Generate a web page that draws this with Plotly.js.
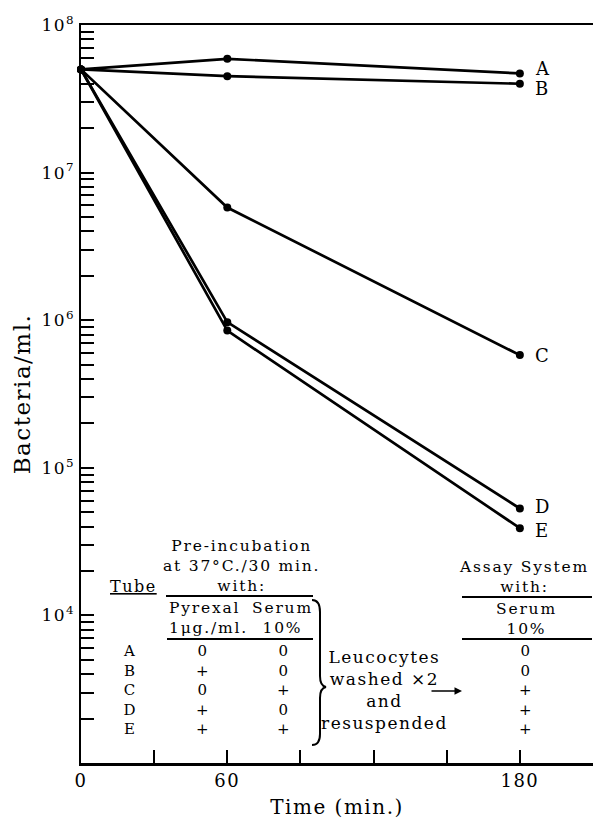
<!DOCTYPE html>
<html><head><meta charset="utf-8">
<script src="https://cdn.plot.ly/plotly-3.0.1.min.js"></script>
<style>html,body{margin:0;padding:0;background:#fff}#chart{width:593px;height:819px}
svg text{letter-spacing:1.5px}</style>
</head><body><div id="chart"></div>
<script>
// ---- data ----
const times = [0, 60, 180];
const tubeA = [5.0e7, 5.9e7, 4.7e7];
const tubeB = [5.0e7, 4.5e7, 4.0e7];
const tubeC = [5.0e7, 5.8e6, 5.8e5];
const tubeD = [5.0e7, 9.7e5, 5.3e4];
const tubeE = [5.0e7, 8.5e5, 3.9e4];
const seriesNames = ['A', 'B', 'C', 'D', 'E'];

const xTickVals = [0, 30, 60, 90, 120, 150, 180];
const xTickText = ['0', '', '60', '', '', '', '180'];
const yDecadeExps = [3, 4, 5, 6, 7, 8];
const yDecadeText = ['', '10<sup>4</sup>', '10<sup>5</sup>', '10<sup>6</sup>', '10<sup>7</sup>', '10<sup>8</sup>'];

// table
const tubes = ['A', 'B', 'C', 'D', 'E'];
const pyrexal = ['0', '+', '0', '+', '+'];
const preSerum = ['0', '0', '+', '0', '+'];
const assaySerum = ['0', '0', '+', '+', '+'];
const preHeader = ['Pre-incubation', 'at 37°C./30 min.', 'with:'];
const pyrexalHeader = ['Pyrexal', '1μg./ml.'];
const serumHeader = ['Serum', '10%'];
const assayHeader = ['Assay System', 'with:'];
const leucoText = ['Leucocytes', 'washed ×2', 'and', 'resuspended'];

// ---- layout helpers ----
const W = 593, H = 819, L = 81, R = 0, T = 25, B = 56;
const pw = W - L - R, ph = H - T - B;
const px = v => (v - L) / pw;
const py = v => (H - B - v) / ph;
const FONT = 'DejaVu Serif';
const spaced = (lines, s) => lines.map(l => `<span style="letter-spacing:${s}px">${l}</span>`).join('<br>');

const allSeries = [tubeA, tubeB, tubeC, tubeD, tubeE];
const traces = allSeries.map((ys, i) => ({
  x: times, y: ys, name: seriesNames[i], type: 'scatter', mode: 'lines+markers',
  line: {color: '#000', width: 2.7}, marker: {color: '#000', size: 8},
  showlegend: false, cliponaxis: false
}));

// y ticks: decades + minor 2..9
const yTickVals = [], yTickText = [];
yDecadeExps.forEach((e, i) => {
  yTickVals.push(Math.pow(10, e)); yTickText.push(yDecadeText[i]);
  if (e < 8) for (let m = 2; m <= 9; m++) { yTickVals.push(m * Math.pow(10, e)); yTickText.push(''); }
});

const ann = [];
const txt = (x, y, text, size, extra) => ann.push(Object.assign({
  xref: 'paper', yref: 'paper', x: px(x), y: py(y), text: text, showarrow: false, borderpad: 0,
  xanchor: 'center', yanchor: 'middle', align: 'center',
  font: {family: FONT, size: size || 15.5, color: '#000'}
}, extra || {}));

// series labels
const labelShift = [5, -5, 0, 2, -2];
allSeries.forEach((ys, i) => ann.push({
  xref: 'x', yref: 'y', x: 180, y: Math.log10(ys[2]), text: seriesNames[i], showarrow: false,
  xanchor: 'left', xshift: 14, yshift: labelShift[i], borderpad: 0,
  font: {family: FONT, size: 18, color: '#000'}
}));

// table
const SP = 1.8;
txt(241, 566, spaced(preHeader, SP));
txt(133, 586, '<span style="text-decoration:underline">Tube</span>', 16);
txt(168, 618, spaced(pyrexalHeader, SP), 15.5, {xanchor: 'left', align: 'left'});
txt(282, 618, spaced(serumHeader, SP));
txt(524, 577, spaced(assayHeader, SP));
txt(526, 619, spaced(serumHeader, SP));
txt(130, 690, spaced(tubes, SP), 15);
txt(203, 690, spaced(pyrexal, SP), 15);
txt(284, 690, spaced(preSerum, SP), 15);
txt(526, 690, spaced(assaySerum, SP), 15);
txt(384, 690, leucoText.join('<br>'), 17);
// arrow
ann.push({xref: 'paper', yref: 'paper', x: px(462), y: py(691), ax: -32, ay: 0, text: '',
  showarrow: true, arrowhead: 2, arrowsize: 1, arrowwidth: 1.5, arrowcolor: '#000'});

const shapes = [];
const hline = (x0, x1, y) => shapes.push({type: 'line', xref: 'paper', yref: 'paper',
  x0: px(x0), x1: px(x1), y0: py(y), y1: py(y), line: {color: '#000', width: 2}});
hline(166, 313, 596);
hline(167, 313, 639);
hline(462, 592, 597);
hline(462, 592, 639);
// curly brace
const path = `M ${px(312)} ${py(600)} Q ${px(320)} ${py(600)} ${px(320)} ${py(612)} ` +
  `L ${px(320)} ${py(676)} Q ${px(320)} ${py(686)} ${px(326)} ${py(687)} ` +
  `Q ${px(320)} ${py(688)} ${px(320)} ${py(698)} L ${px(320)} ${py(734)} ` +
  `Q ${px(320)} ${py(745)} ${px(312)} ${py(745)}`;
shapes.push({type: 'path', xref: 'paper', yref: 'paper', path: path, line: {color: '#000', width: 2}});

const layout = {
  width: W, height: H, margin: {l: L, r: R, t: T, b: B},
  paper_bgcolor: '#fff', plot_bgcolor: '#fff',
  font: {family: FONT, color: '#000', size: 17},
  xaxis: {
    range: [0, 210], tickvals: xTickVals, ticktext: xTickText, ticks: 'inside', ticklen: 13,
    tickwidth: 2, tickcolor: '#000', showline: true, linewidth: 2.5, linecolor: '#000', mirror: true,
    showgrid: false, zeroline: false, tickfont: {family: FONT, size: 18},
    title: {text: 'Time (min.)', font: {family: FONT, size: 20}, standoff: 10}
  },
  yaxis: {
    type: 'log', range: [3, 8], tickvals: yTickVals, ticktext: yTickText, ticks: 'inside', ticklen: 13,
    tickwidth: 2, tickcolor: '#000', showline: true, linewidth: 2.5, linecolor: '#000', mirror: false,
    showgrid: false, zeroline: false, tickfont: {family: FONT, size: 17},
    title: {text: 'Bacteria/ml.', font: {family: FONT, size: 23}, standoff: 5}
  },
  annotations: ann, shapes: shapes
};
Plotly.newPlot('chart', traces, layout, {displayModeBar: false, staticPlot: true});
</script></body></html>
